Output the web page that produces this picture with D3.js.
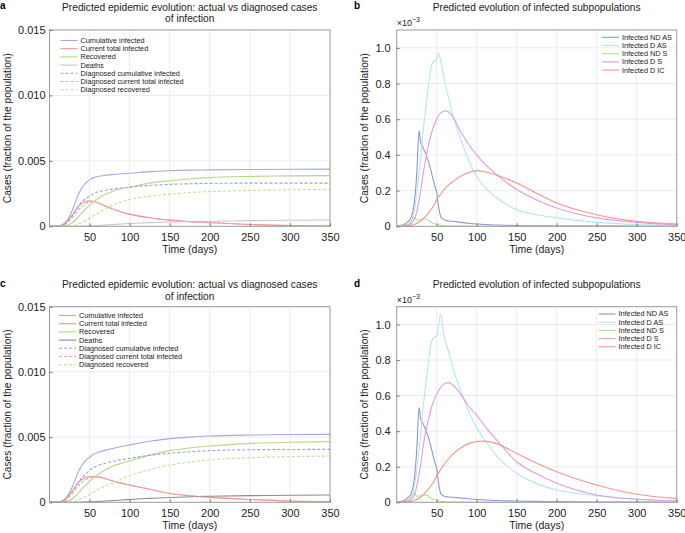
<!DOCTYPE html>
<html><head><meta charset="utf-8">
<script src="https://cdn.jsdelivr.net/npm/d3@7"></script>
<style>body{margin:0;background:#fff;} svg{display:block;font-family:"Liberation Sans",Arial,sans-serif;}</style>
</head><body><svg id="chart" width="685" height="533"></svg>
<script>
// ---- data (values in units of 1e-3 fraction of population) ----
const daysAC = [0,10,15,20,25,30,35,40,45,50,55,60,70,80,90,100,125,150,175,200,250,300,350];
const daysBD = [0,5,10,15,18,20,22,25,28,30,33,36,40,44,48,50,52,55,58,60,65,70,80,90,100,110,125,150,175,200,250,300,350];

const xTicks = [50,100,150,200,250,300,350];
const yTicksAC = [0,5,10,15];
const yTickLabelsAC = ["0","0.005","0.010","0.015"];
const yTicksBD = [0,0.2,0.4,0.6,0.8,1.0];
const yTickLabelsBD = ["0","0.2","0.4","0.6","0.8","1.0"];

const seriesNamesAC = ["Cumulative infected","Current total infected","Recovered","Deaths","Diagnosed cumulative infected","Diagnosed current total infected","Diagnosed recovered"];
const seriesNamesBD = ["Infected ND AS","Infected D AS","Infected ND S","Infected D S","Infected D IC"];

// panel a
const aCumulative   = [0,0.02,0.1,0.3,0.75,1.45,2.3,2.9,3.3,3.55,3.72,3.8,3.9,3.96,4.01,4.05,4.18,4.25,4.29,4.31,4.34,4.36,4.37];
const aCurrent      = [0,0.02,0.08,0.25,0.6,1.0,1.45,1.75,1.9,1.94,1.9,1.8,1.55,1.3,1.1,0.93,0.65,0.47,0.36,0.28,0.14,0.06,0.02];
const aRecovered    = [0,0,0.01,0.05,0.15,0.35,0.65,1.0,1.3,1.6,1.87,2.1,2.45,2.7,2.88,3.0,3.3,3.48,3.62,3.72,3.81,3.85,3.87];
const aDeaths       = [0,0,0,0,0,0,0,0.01,0.02,0.03,0.04,0.06,0.1,0.14,0.18,0.21,0.28,0.33,0.36,0.39,0.43,0.46,0.48];
const aDiagCum      = [0,0.01,0.06,0.2,0.5,0.95,1.45,1.85,2.1,2.3,2.5,2.62,2.75,2.85,2.93,2.98,3.12,3.2,3.25,3.28,3.3,3.3,3.3];
const aDiagCurrent  = [0,0.01,0.05,0.17,0.45,0.8,1.2,1.5,1.72,1.85,1.9,1.8,1.55,1.3,1.1,0.93,0.65,0.47,0.36,0.28,0.14,0.06,0.02];
const aDiagRecov    = [0,0,0,0,0,0.05,0.15,0.28,0.45,0.63,0.82,1.0,1.35,1.65,1.88,2.05,2.3,2.45,2.58,2.66,2.74,2.79,2.83];

// panel c
const cCumulative   = [0,0.02,0.1,0.3,0.75,1.4,2.2,2.8,3.2,3.45,3.68,3.82,4.0,4.15,4.28,4.4,4.68,4.88,5.0,5.08,5.16,5.2,5.21];
const cCurrent      = [0,0.02,0.08,0.25,0.6,1.0,1.45,1.75,1.9,1.96,1.98,1.95,1.8,1.62,1.45,1.32,1.0,0.68,0.5,0.38,0.22,0.1,0.05];
const cRecovered    = [0,0,0.01,0.05,0.15,0.35,0.65,1.0,1.3,1.6,1.88,2.12,2.5,2.8,3.0,3.17,3.62,3.96,4.17,4.32,4.52,4.6,4.65];
const cDeaths       = [0,0,0,0,0,0,0,0.01,0.02,0.03,0.04,0.06,0.1,0.14,0.18,0.22,0.3,0.37,0.42,0.46,0.51,0.54,0.56];
const cDiagCum      = [0,0.01,0.06,0.2,0.5,0.95,1.45,1.85,2.15,2.45,2.68,2.82,3.0,3.15,3.27,3.37,3.6,3.76,3.88,3.96,4.03,4.05,4.06];
const cDiagCurrent  = [0,0.01,0.05,0.17,0.45,0.8,1.2,1.5,1.72,1.88,1.95,1.95,1.8,1.62,1.45,1.32,1.0,0.68,0.5,0.38,0.22,0.1,0.05];
const cDiagRecov    = [0,0,0,0,0,0.05,0.15,0.28,0.42,0.58,0.78,0.96,1.25,1.5,1.8,2.04,2.5,2.86,3.08,3.25,3.42,3.5,3.55];

// panel b
const bNDAS = [0.003,0.005,0.012,0.03,0.05,0.08,0.13,0.29,0.535,0.47,0.44,0.41,0.36,0.29,0.22,0.19,0.12,0.055,0.04,0.035,0.03,0.028,0.022,0.017,0.013,0.01,0.007,0.004,0.003,0.002,0.001,0.0005,0];
const bDAS  = [0,0.001,0.003,0.01,0.025,0.05,0.09,0.18,0.3,0.38,0.53,0.65,0.8,0.91,0.93,0.935,0.972,0.93,0.86,0.81,0.72,0.625,0.49,0.37,0.28,0.22,0.16,0.093,0.065,0.047,0.022,0.01,0.005];
const bNDS  = [0,0.002,0.005,0.015,0.03,0.042,0.052,0.035,0.035,0.038,0.042,0.042,0.033,0.02,0.013,0.01,0.008,0.005,0.004,0.003,0.002,0.002,0.001,0.001,0,0,0,0,0,0,0,0,0];
const bDS   = [0,0.001,0.003,0.008,0.015,0.025,0.04,0.08,0.15,0.2,0.29,0.37,0.46,0.53,0.58,0.6,0.62,0.635,0.645,0.647,0.64,0.615,0.53,0.46,0.4,0.35,0.29,0.206,0.148,0.103,0.047,0.022,0.008];
const bDIC  = [0,0,0.001,0.003,0.005,0.007,0.01,0.016,0.024,0.03,0.042,0.055,0.075,0.1,0.13,0.15,0.163,0.18,0.198,0.21,0.232,0.25,0.28,0.302,0.312,0.306,0.286,0.243,0.185,0.131,0.065,0.028,0.013];

// panel d
const dNDAS = [0.003,0.005,0.012,0.03,0.05,0.08,0.13,0.29,0.533,0.47,0.44,0.41,0.36,0.29,0.22,0.19,0.12,0.05,0.038,0.033,0.03,0.028,0.024,0.02,0.016,0.013,0.01,0.007,0.005,0.004,0.002,0.001,0];
const dDAS  = [0,0.001,0.003,0.01,0.025,0.05,0.09,0.18,0.3,0.38,0.53,0.65,0.8,0.91,0.93,0.935,0.98,1.06,0.97,0.92,0.845,0.76,0.625,0.51,0.42,0.35,0.26,0.163,0.105,0.069,0.037,0.017,0.008];
const dNDS  = [0,0.002,0.005,0.015,0.03,0.042,0.052,0.035,0.035,0.038,0.042,0.042,0.033,0.02,0.013,0.01,0.008,0.005,0.004,0.003,0.002,0.002,0.001,0.001,0,0,0,0,0,0,0,0,0];
const dDS   = [0,0.001,0.003,0.008,0.015,0.025,0.04,0.09,0.16,0.21,0.31,0.39,0.47,0.54,0.59,0.61,0.625,0.645,0.66,0.668,0.673,0.66,0.61,0.54,0.49,0.43,0.35,0.228,0.16,0.107,0.041,0.017,0.007];
const dDIC  = [0,0,0.001,0.003,0.005,0.007,0.01,0.016,0.024,0.03,0.042,0.055,0.075,0.1,0.13,0.15,0.163,0.185,0.205,0.218,0.245,0.27,0.305,0.33,0.342,0.344,0.33,0.275,0.22,0.172,0.097,0.045,0.022];

// ---- styles ----
const colAC = ["#a3aade","#f29090","#b3da86","#c8c8c8","#9aa2dc","#f0a0a0","#c0e09a"];
const colACdeathsC = "#8c8c8c";
const dashAC = [null,null,null,null,"3,2","3,2","3,2"];
const colBD = ["#8d95d3","#b2e6f2","#b9e08e","#e39be3","#f3958d"];

const svg = d3.select("#chart");

function panel(opt){
  const g = svg.append("g");
  const x = d3.scaleLinear().domain([0,350]).range([opt.left, opt.right]);
  const y = d3.scaleLinear().domain(opt.yDomain).range([opt.bottom, opt.top]);
  // grid
  g.selectAll(".gx").data(xTicks.slice(0,-1)).join("line")
    .attr("x1",d=>x(d)).attr("x2",d=>x(d)).attr("y1",opt.top).attr("y2",opt.bottom)
    .attr("stroke","#ececec").attr("stroke-width",1);
  g.selectAll(".gy").data(opt.yTicks.slice(1).filter(v=>y(v)>opt.top+1)).join("line")
    .attr("x1",opt.left).attr("x2",opt.right).attr("y1",d=>y(d)).attr("y2",d=>y(d))
    .attr("stroke","#ececec").attr("stroke-width",1);
  // lines
  const clipId = "clip"+opt.id;
  svg.append("clipPath").attr("id",clipId).append("rect")
    .attr("x",opt.left).attr("y",opt.top).attr("width",opt.right-opt.left).attr("height",opt.bottom-opt.top);
  const line = d3.line().x((d,i)=>x(opt.days[i])).y(d=>y(d)).curve(d3.curveMonotoneX);
  const lg = g.append("g").attr("clip-path",`url(#${clipId})`);
  opt.series.forEach((s,i)=>{
    lg.append("path").attr("d",line(s)).attr("fill","none")
      .attr("stroke",opt.colors[i]).attr("stroke-width",1.1)
      .attr("stroke-dasharray",opt.dashes ? opt.dashes[i] : null);
  });
  // frame
  g.append("rect").attr("x",opt.left).attr("y",opt.top).attr("width",opt.right-opt.left).attr("height",opt.bottom-opt.top)
    .attr("fill","none").attr("stroke","#9a9a9a").attr("stroke-width",1);
  // axes
  const xa = d3.axisBottom(x).tickValues(xTicks).tickSizeInner(-3).tickSizeOuter(0).tickPadding(7);
  const xg = g.append("g").attr("transform",`translate(0,${opt.bottom})`).call(xa);
  xg.select(".domain").remove();
  xg.selectAll("line").attr("stroke","#777");
  xg.selectAll("text").attr("font-size",11).attr("fill","#222").attr("font-family","Liberation Sans, Arial, sans-serif");
  const ya = d3.axisLeft(y).tickValues(opt.yTicks).tickFormat((d,i)=>opt.yLabels[i]).tickSizeInner(-3).tickSizeOuter(0).tickPadding(opt.ypad);
  const yg = g.append("g").attr("transform",`translate(${opt.left},0)`).call(ya);
  yg.select(".domain").remove();
  yg.selectAll("line").attr("stroke","#777");
  yg.selectAll("text").attr("font-size",11).attr("fill","#222").attr("font-family","Liberation Sans, Arial, sans-serif");
  // labels
  g.append("text").attr("x",(opt.left+opt.right)/2).attr("y",opt.bottom+27).attr("text-anchor","middle")
    .attr("font-size",10.5).attr("fill","#222").text("Time (days)");
  g.append("text").attr("transform",`translate(${opt.ylabX},${(opt.top+opt.bottom)/2}) rotate(-90)`)
    .attr("text-anchor","middle").attr("dy","0.35em").attr("font-size",10.2).attr("fill","#222")
    .text("Cases (fraction of the population)");
  // titles
  opt.title.forEach((t,i)=>{
    g.append("text").attr("x",(opt.left+opt.right)/2).attr("y",opt.titleY + i*11.5).attr("text-anchor","middle")
      .attr("font-size",10.2).attr("fill","#222").text(t);
  });
  g.append("text").attr("x",opt.letterX).attr("y",opt.letterY).attr("font-size",10).attr("font-weight","bold")
    .attr("fill","#000").text(opt.letter);
  if(opt.exp){
    const t = g.append("text").attr("x",opt.left).attr("y",opt.top-4).attr("font-size",9).attr("fill","#222");
    t.append("tspan").text("\u00d710");
    t.append("tspan").attr("font-size",7).attr("dy",-4).text("\u22123");
  }
  // legend
  opt.names.forEach((n,i)=>{
    const yy = opt.legY + i*opt.legStep;
    g.append("line").attr("x1",opt.legX).attr("x2",opt.legX+17).attr("y1",yy).attr("y2",yy)
      .attr("stroke",opt.colors[i]).attr("stroke-width",1.1)
      .attr("stroke-dasharray",opt.dashes ? opt.dashes[i] : null);
    g.append("text").attr("x",opt.legX+20).attr("y",yy).attr("dy","0.33em").attr("font-size",opt.legFont)
      .attr("fill","#222").text(n);
  });
}

const titleAC = ["Predicted epidemic evolution: actual vs diagnosed cases","of infection"];
const titleBD = ["Predicted evolution of infected subpopulations"];

panel({id:"a",left:49.5,right:330,top:30,bottom:226.3,yDomain:[0,15],yTicks:yTicksAC,yLabels:yTickLabelsAC,ypad:4,
  days:daysAC,series:[aCumulative,aCurrent,aRecovered,aDeaths,aDiagCum,aDiagCurrent,aDiagRecov],
  colors:colAC,dashes:dashAC,names:seriesNamesAC,ylabX:7,title:titleAC,titleY:10.5,letter:"a",letterX:0,letterY:9,
  legX:60.5,legY:40.5,legStep:8.2,legFont:7.3});
panel({id:"b",left:396.7,right:676.7,top:30,bottom:226.3,yDomain:[0,1.1],yTicks:yTicksBD,yLabels:yTickLabelsBD,ypad:6,
  days:daysBD,series:[bNDAS,bDAS,bNDS,bDS,bDIC],colors:colBD,names:seriesNamesBD,ylabX:364.5,title:titleBD,titleY:10.5,
  letter:"b",letterX:354,letterY:9,exp:true,legX:602,legY:37.3,legStep:8.2,legFont:7.3});
const colC = colAC.slice(); colC[3] = colACdeathsC;
panel({id:"c",left:49.5,right:330,top:306.7,bottom:502.3,yDomain:[0,15],yTicks:yTicksAC,yLabels:yTickLabelsAC,ypad:4,
  days:daysAC,series:[cCumulative,cCurrent,cRecovered,cDeaths,cDiagCum,cDiagCurrent,cDiagRecov],
  colors:colC,dashes:dashAC,names:seriesNamesAC,ylabX:7,title:titleAC,titleY:288,letter:"c",letterX:0,letterY:287,
  legX:59,legY:315.5,legStep:8.2,legFont:7.3});
panel({id:"d",left:396.7,right:676.7,top:306.7,bottom:502.3,yDomain:[0,1.1],yTicks:yTicksBD,yLabels:yTickLabelsBD,ypad:6,
  days:daysBD,series:[dNDAS,dDAS,dNDS,dDS,dDIC],colors:colBD,names:seriesNamesBD,ylabX:364.5,title:titleBD,titleY:288,
  letter:"d",letterX:354,letterY:287,exp:true,legX:598.5,legY:314,legStep:8.2,legFont:7.3});
</script></body></html>
